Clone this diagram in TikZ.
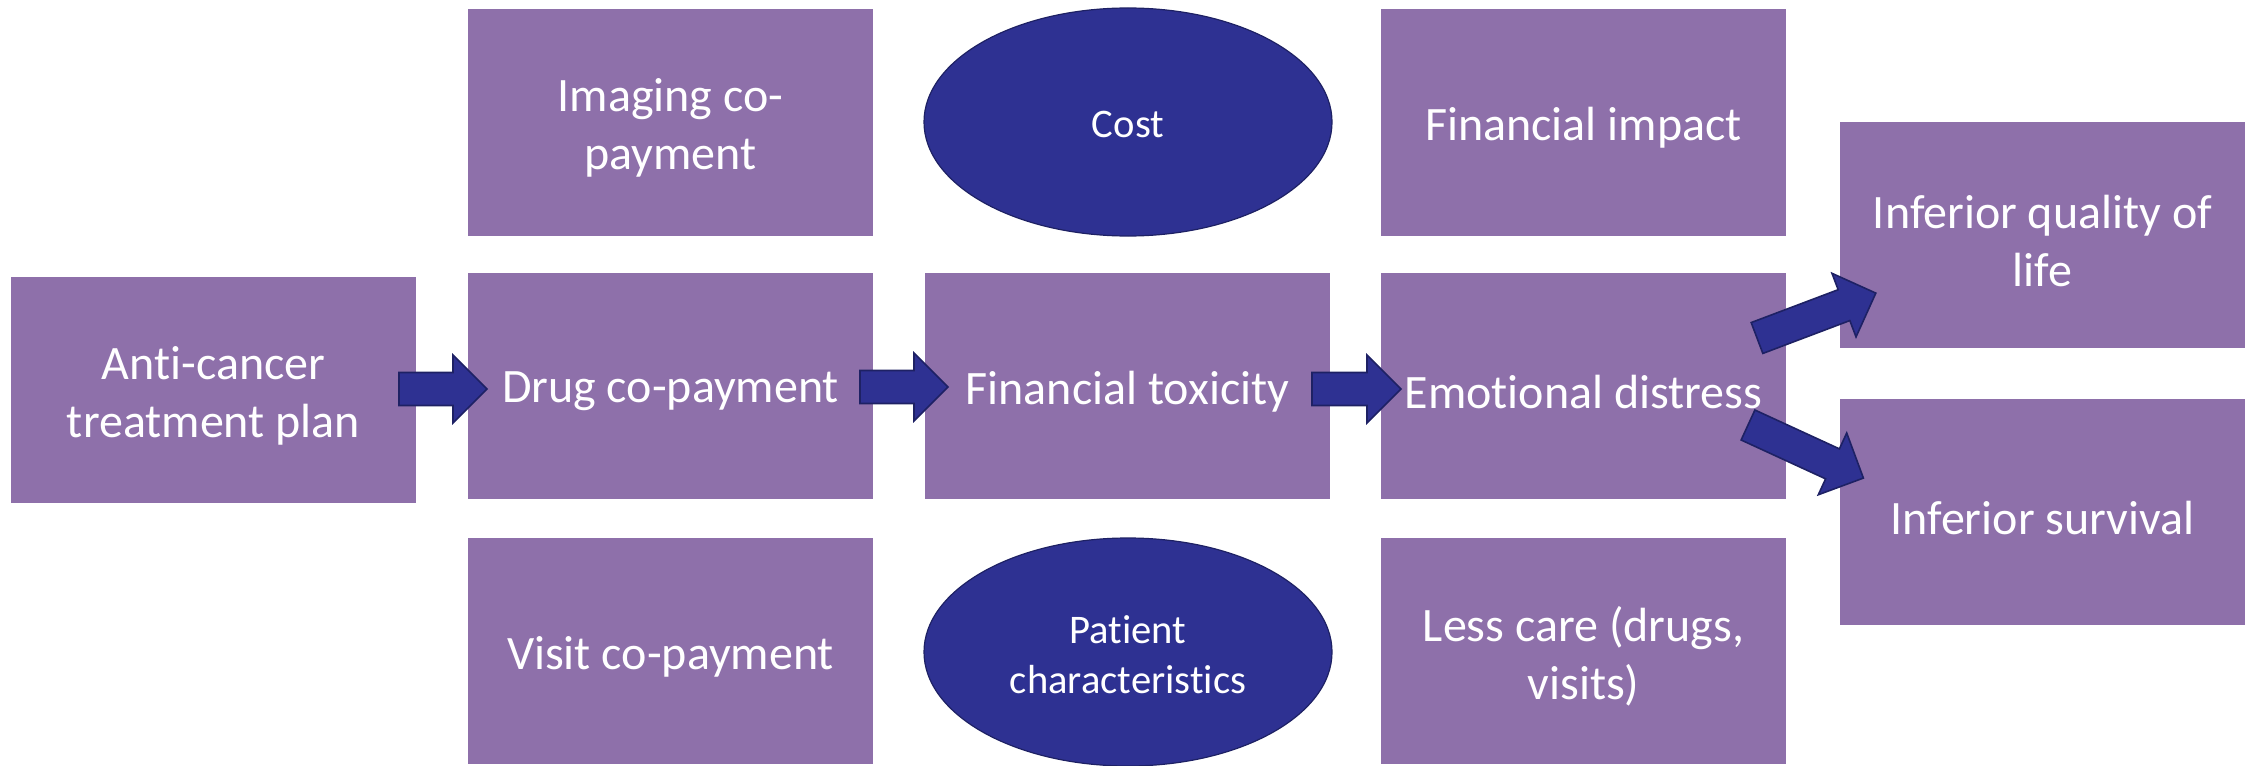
\documentclass[tikz,border=0pt]{standalone}
\usepackage{fontspec}
\setmainfont{Carlito}[Ligatures=NoCommon]
\usetikzlibrary{shapes.geometric}
\definecolor{boxpurple}{RGB}{142,112,170}
\definecolor{navy}{RGB}{46,49,146}
\definecolor{navyedge}{RGB}{30,33,100}
\tikzset{
  box/.style={fill=boxpurple, minimum width=202.5pt, minimum height=113pt,
    inner sep=0pt},
  boxtext/.style={text=white, align=center, inner sep=0pt, yshift=-2.8pt,
    font=\fontsize{24}{29}\selectfont},
  oval/.style={ellipse, fill=navy, draw=navyedge, line width=0.6pt,
    minimum width=204pt, minimum height=114pt, inner sep=0pt},
  ovaltext/.style={text=white, align=center, inner sep=0pt, yshift=-1.3pt,
    font=\fontsize{20.3}{25}\selectfont},
  arrowbody/.style={fill=navy, draw=navyedge, line width=0.8pt, line join=miter},
  % block arrow pointing along +x from its tail centre, length #1
  pics/blockarrow/.style={code={
    \draw[arrowbody] (0,-16.5) -- (#1-34,-16.5) -- (#1-34,-34) -- (#1,0)
      -- (#1-34,34) -- (#1-34,16.5) -- (0,16.5) -- cycle;}}
}
\begin{document}
\begin{tikzpicture}[x=0.5pt,y=-0.5pt]
  \useasboundingbox (0,0) rectangle (2252,765);

  % boxes, each with its text centred
  \node[box, label={[boxtext]center:Anti-cancer\\treatment plan}] (plan) at (213.5,390) {};
  \node[box, label={[boxtext]center:Imaging co-\\payment}] (imaging) at (670.5,122.5) {};
  \node[box, label={[boxtext]center:Drug co-payment}] (drug) at (670.5,386) {};
  \node[box, label={[boxtext]center:Visit co-payment}] (visit) at (670.5,651) {};
  \node[box, label={[boxtext]center:Financial toxicity}] (toxicity) at (1127.5,386) {};
  \node[box, label={[boxtext]center:Financial impact}] (impact) at (1583.5,122.5) {};
  \node[box, label={[boxtext]center:Emotional distress}] (distress) at (1583.5,386) {};
  \node[box, label={[boxtext]center:Less care (drugs,\\visits)}] (lesscare) at (1583.5,651) {};
  \node[box, label={[boxtext]center:Inferior quality of\\life}] (quality) at (2042.5,235) {};
  \node[box, label={[boxtext]center:Inferior survival}] (survival) at (2042.5,512) {};

  % ovals
  \node[oval, label={[ovaltext]center:Cost}] (cost) at (1128,122) {};
  \node[oval, label={[ovaltext]center:Patient\\characteristics}] (patient) at (1128,652) {};

  % block arrows
  \coordinate (a1) at (399,389);
  \coordinate (a2) at (860,387);
  \coordinate (a3) at (1312,389);
  \coordinate (a4) at (1757,338);
  \coordinate (a5) at (1748,425);
  \pic at (a1) {blockarrow=88};
  \pic at (a2) {blockarrow=88};
  \pic at (a3) {blockarrow=89};
  \pic[rotate=20.7] at (a4) {blockarrow=127};
  \pic[rotate=-24.7] at (a5) {blockarrow=127};
\end{tikzpicture}
\end{document}
